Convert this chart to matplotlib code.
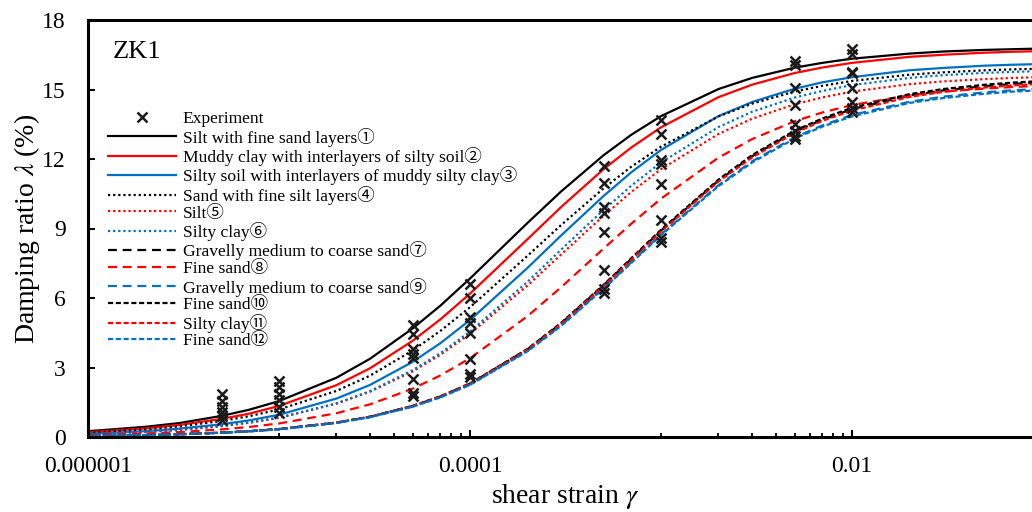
import matplotlib
matplotlib.use("Agg")
import matplotlib.pyplot as plt
from matplotlib.ticker import FixedLocator, NullFormatter

plt.rcParams['font.family'] = ['Liberation Serif', 'Noto Sans CJK JP', 'DejaVu Sans']
plt.rcParams['mathtext.fontset'] = 'stix'

# shear strain grid used for the curves
strain = [1e-6, 2e-6, 3e-6, 5e-6, 7e-6,
          1e-5, 2e-5, 3e-5, 5e-5, 7e-5,
          1e-4, 2e-4, 3e-4, 5e-4, 7e-4,
          1e-3, 2e-3, 3e-3, 5e-3, 7e-3,
          1e-2, 2e-2, 3e-2, 5e-2, 7e-2, 1e-1]

# damping ratio (%) of each soil layer
d1 = [0.25, 0.44, 0.60, 0.91, 1.18, 1.55, 2.56, 3.38, 4.68, 5.67, 6.84, 9.24, 10.60,
      12.16, 13.05, 13.85, 15.02, 15.50, 15.94, 16.15, 16.33, 16.55, 16.64, 16.71, 16.74, 16.77]
d2 = [0.21, 0.37, 0.52, 0.78, 1.01, 1.34, 2.24, 2.97, 4.15, 5.08, 6.19, 8.54, 9.93,
      11.56, 12.50, 13.37, 14.67, 15.21, 15.71, 15.95, 16.15, 16.41, 16.50, 16.59, 16.63, 16.66]
d3 = [0.14, 0.25, 0.36, 0.55, 0.72, 0.96, 1.66, 2.25, 3.24, 4.05, 5.05, 7.30, 8.70,
      10.40, 11.43, 12.39, 13.85, 14.46, 15.03, 15.31, 15.53, 15.83, 15.93, 16.03, 16.07, 16.10]
d4 = [0.19, 0.33, 0.46, 0.69, 0.90, 1.19, 1.99, 2.65, 3.73, 4.58, 5.60, 7.82, 9.15,
      10.73, 11.67, 12.53, 13.84, 14.39, 14.91, 15.16, 15.37, 15.64, 15.74, 15.83, 15.87, 15.90]
d5 = [0.12, 0.22, 0.31, 0.47, 0.62, 0.83, 1.44, 1.96, 2.83, 3.55, 4.46, 6.54, 7.88,
      9.55, 10.58, 11.56, 13.08, 13.74, 14.36, 14.66, 14.91, 15.23, 15.35, 15.45, 15.50, 15.54]
d6 = [0.12, 0.22, 0.30, 0.47, 0.62, 0.83, 1.45, 1.98, 2.88, 3.62, 4.55, 6.70, 8.09,
      9.80, 10.85, 11.85, 13.38, 14.04, 14.65, 14.94, 15.19, 15.50, 15.62, 15.72, 15.76, 15.80]
d7 = [0.045, 0.083, 0.119, 0.186, 0.250, 0.341, 0.621, 0.874, 1.335, 1.748, 2.302, 3.784, 4.905,
      6.540, 7.688, 8.907, 11.07, 12.12, 13.17, 13.70, 14.15, 14.74, 14.96, 15.15, 15.24, 15.31]
d8 = [0.084, 0.151, 0.213, 0.328, 0.435, 0.584, 1.027, 1.413, 2.084, 2.659, 3.400, 5.216, 6.466,
      8.132, 9.211, 10.29, 12.06, 12.86, 13.63, 14.01, 14.33, 14.75, 14.91, 15.04, 15.11, 15.16]
d9 = [0.044, 0.082, 0.117, 0.183, 0.246, 0.335, 0.610, 0.858, 1.311, 1.717, 2.261, 3.716, 4.817,
      6.422, 7.550, 8.747, 10.87, 11.90, 12.93, 13.45, 13.90, 14.47, 14.69, 14.88, 14.97, 15.03]
d10 = [0.045, 0.083, 0.119, 0.187, 0.251, 0.342, 0.623, 0.877, 1.340, 1.755, 2.311, 3.799, 4.925,
       6.566, 7.719, 8.943, 11.11, 12.17, 13.22, 13.75, 14.21, 14.80, 15.02, 15.21, 15.30, 15.37]
d11 = [0.045, 0.083, 0.119, 0.185, 0.249, 0.340, 0.619, 0.871, 1.330, 1.741, 2.293, 3.769, 4.885,
       6.514, 7.657, 8.871, 11.03, 12.07, 13.12, 13.65, 14.09, 14.68, 14.90, 15.09, 15.18, 15.25]
d12 = [0.044, 0.081, 0.116, 0.182, 0.245, 0.333, 0.607, 0.855, 1.306, 1.710, 2.251, 3.701, 4.797,
       6.396, 7.519, 8.711, 10.83, 11.85, 12.88, 13.40, 13.84, 14.42, 14.63, 14.82, 14.91, 14.97]

# experiment points
exp_x = ([5e-6] * 6 + [1e-5] * 6 + [5e-5] * 8 + [1e-4] * 8 + [5e-4] * 8
         + [1e-3] * 8 + [5e-3] * 8 + [1e-2] * 8)
exp_y = [1.85, 1.55, 1.30, 1.10, 0.90, 0.75,
         2.40, 2.15, 1.85, 1.60, 1.30, 1.05,
         4.85, 4.45, 3.80, 3.60, 3.40, 2.50, 1.90, 1.75,
         6.60, 6.00, 5.20, 4.90, 4.50, 3.35, 2.70, 2.60,
         11.70, 10.96, 9.93, 9.67, 8.85, 7.20, 6.38, 6.20,
         13.68, 13.08, 11.96, 11.78, 10.92, 9.37, 8.60, 8.42,
         16.25, 16.05, 15.05, 14.35, 13.50, 13.20, 13.00, 12.85,
         16.75, 16.55, 15.75, 15.70, 15.05, 14.45, 14.20, 14.05]

labels = ["Silt with fine sand layers①",
          "Muddy clay with interlayers of silty soil②",
          "Silty soil with interlayers of muddy silty clay③",
          "Sand with fine silt layers④",
          "Silt⑤",
          "Silty clay⑥",
          "Gravelly medium to coarse sand⑦",
          "Fine sand⑧",
          "Gravelly medium to coarse sand⑨",
          "Fine sand⑩",
          "Silty clay⑪",
          "Fine sand⑫"]
series = [d1, d2, d3, d4, d5, d6, d7, d8, d9, d10, d11, d12]

blk, red, blu = "#000000", "#ff0000", "#0070c0"
colors = [blk, red, blu] * 4
solid = '-'
dotted = (0, (1, 1.3))
longdash = (0, (4, 2.6))
shortdash = (0, (2.3, 1.2))
styles = [solid] * 3 + [dotted] * 3 + [longdash] * 3 + [shortdash] * 3

fig = plt.figure(figsize=(10.32, 5.12), dpi=100)
ax = fig.add_axes([88 / 1032, 75 / 512, 955 / 1032, 417 / 512])

ax.plot(exp_x, exp_y, 'x', color='#1a1a1a', ms=7, mew=1.8, label="Experiment", zorder=5)
for y, lab, c, ls in zip(series, labels, colors, styles):
    ax.plot(strain, y, color=c, ls=ls, lw=1.6, label=lab)

ax.set_xscale('log')
ax.set_xlim(1e-6, 1e-1)
ax.set_ylim(0, 18)
ax.set_yticks([0, 3, 6, 9, 12, 15, 18])
ax.xaxis.set_major_locator(FixedLocator([1e-6, 1e-4, 1e-2]))
ax.set_xticklabels(['0.000001', '0.0001', '0.01'])
minor = [k * 1e-5 for k in range(1, 10)] + [k * 1e-3 for k in range(1, 10)]
ax.xaxis.set_minor_locator(FixedLocator(minor))
ax.xaxis.set_minor_formatter(NullFormatter())

ax.tick_params(axis='both', which='major', direction='in', length=5, width=1.5, labelsize=17)
ax.tick_params(axis='x', which='major', pad=14)
ax.tick_params(axis='y', which='major', pad=16)
ax.tick_params(axis='x', which='minor', direction='in', length=3, width=1.3)
for s in ['left', 'bottom', 'top']:
    ax.spines[s].set_linewidth(2.2)
ax.spines['right'].set_visible(False)

ax.set_xlabel(r'shear strain $\gamma$', fontsize=20, labelpad=3)
ax.set_ylabel(r'Damping ratio $\lambda$ (%)', fontsize=20, labelpad=0)
ax.text(0.026, 0.95, 'ZK1', transform=ax.transAxes, fontsize=19, va='top', ha='left')

ax.legend(loc='upper left', bbox_to_anchor=(0.021, 0.782), frameon=False, fontsize=12.6,
          handlelength=3.9, handletextpad=0.36, labelspacing=0.025, borderpad=0, borderaxespad=0)

fig.savefig('out.png', dpi=100)
